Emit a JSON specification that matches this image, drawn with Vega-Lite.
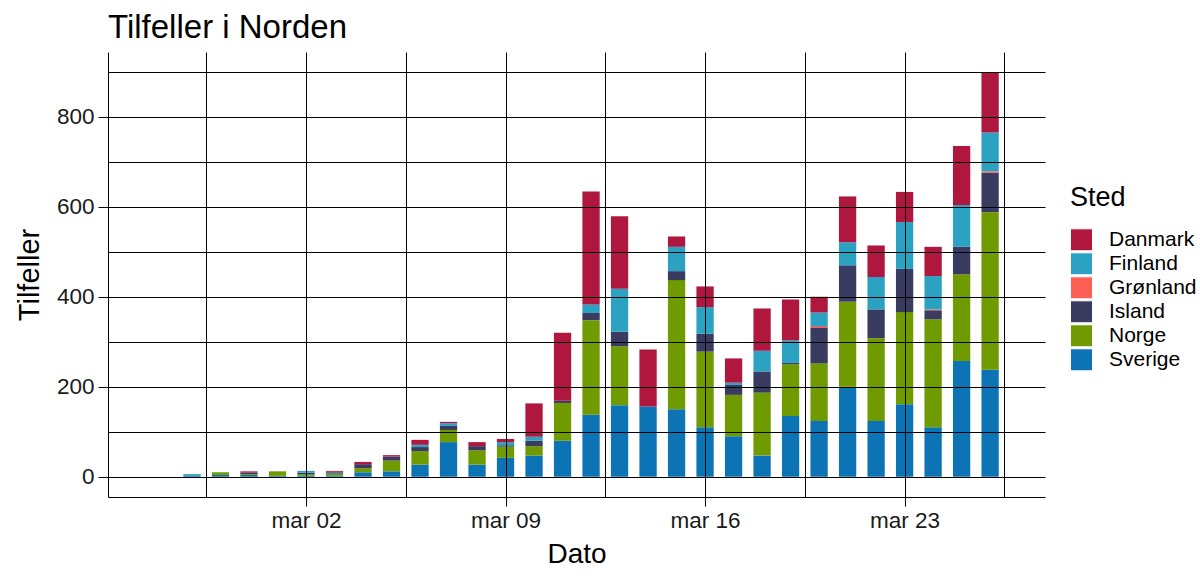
{
  "$schema": "https://vega.github.io/schema/vega-lite/v6.json",
  "width": 937,
  "height": 445,
  "autosize": {"type": "none"},
  "padding": {"left": 108, "top": 52, "right": 155, "bottom": 79},
  "background": "white",
  "title": {"text": "Tilfeller i Norden", "anchor": "start", "frame": "group", "fontSize": 33, "font": "Liberation Sans", "fontWeight": "normal", "color": "black", "offset": 7},
  "config": {
    "view": {"stroke": null},
    "font": "Liberation Sans",
    "axis": {"labelFont": "Liberation Sans", "titleFont": "Liberation Sans", "labelColor": "#1a1a1a", "titleColor": "black", "titleFontWeight": "normal", "domainColor": "black", "domainWidth": 1, "tickColor": "black", "gridColor": "black", "gridOpacity": 1, "gridWidth": 1}
  },
  "data": {"values": [
    {"Dato": "2020-02-27", "Sted": "Sverige", "Tilfeller": 2},
    {"Dato": "2020-02-27", "Sted": "Finland", "Tilfeller": 4},
    {"Dato": "2020-02-28", "Sted": "Sverige", "Tilfeller": 4},
    {"Dato": "2020-02-28", "Sted": "Norge", "Tilfeller": 6},
    {"Dato": "2020-02-29", "Sted": "Sverige", "Tilfeller": 4},
    {"Dato": "2020-02-29", "Sted": "Norge", "Tilfeller": 2},
    {"Dato": "2020-02-29", "Sted": "Island", "Tilfeller": 3},
    {"Dato": "2020-02-29", "Sted": "Danmark", "Tilfeller": 3},
    {"Dato": "2020-03-01", "Sted": "Sverige", "Tilfeller": 2},
    {"Dato": "2020-03-01", "Sted": "Norge", "Tilfeller": 10},
    {"Dato": "2020-03-02", "Sted": "Sverige", "Tilfeller": 3},
    {"Dato": "2020-03-02", "Sted": "Norge", "Tilfeller": 3},
    {"Dato": "2020-03-02", "Sted": "Island", "Tilfeller": 3},
    {"Dato": "2020-03-02", "Sted": "Finland", "Tilfeller": 4},
    {"Dato": "2020-03-03", "Sted": "Sverige", "Tilfeller": 3},
    {"Dato": "2020-03-03", "Sted": "Norge", "Tilfeller": 4},
    {"Dato": "2020-03-03", "Sted": "Island", "Tilfeller": 3},
    {"Dato": "2020-03-03", "Sted": "Finland", "Tilfeller": 1},
    {"Dato": "2020-03-03", "Sted": "Danmark", "Tilfeller": 2},
    {"Dato": "2020-03-04", "Sted": "Sverige", "Tilfeller": 10},
    {"Dato": "2020-03-04", "Sted": "Norge", "Tilfeller": 9},
    {"Dato": "2020-03-04", "Sted": "Island", "Tilfeller": 9},
    {"Dato": "2020-03-04", "Sted": "Danmark", "Tilfeller": 5},
    {"Dato": "2020-03-05", "Sted": "Sverige", "Tilfeller": 12},
    {"Dato": "2020-03-05", "Sted": "Norge", "Tilfeller": 24},
    {"Dato": "2020-03-05", "Sted": "Island", "Tilfeller": 9},
    {"Dato": "2020-03-05", "Sted": "Danmark", "Tilfeller": 3},
    {"Dato": "2020-03-06", "Sted": "Sverige", "Tilfeller": 27},
    {"Dato": "2020-03-06", "Sted": "Norge", "Tilfeller": 30},
    {"Dato": "2020-03-06", "Sted": "Island", "Tilfeller": 9},
    {"Dato": "2020-03-06", "Sted": "Finland", "Tilfeller": 5},
    {"Dato": "2020-03-06", "Sted": "Danmark", "Tilfeller": 11},
    {"Dato": "2020-03-07", "Sted": "Sverige", "Tilfeller": 77},
    {"Dato": "2020-03-07", "Sted": "Norge", "Tilfeller": 27},
    {"Dato": "2020-03-07", "Sted": "Island", "Tilfeller": 9},
    {"Dato": "2020-03-07", "Sted": "Finland", "Tilfeller": 6},
    {"Dato": "2020-03-07", "Sted": "Danmark", "Tilfeller": 3},
    {"Dato": "2020-03-08", "Sted": "Sverige", "Tilfeller": 27},
    {"Dato": "2020-03-08", "Sted": "Norge", "Tilfeller": 32},
    {"Dato": "2020-03-08", "Sted": "Island", "Tilfeller": 9},
    {"Dato": "2020-03-08", "Sted": "Danmark", "Tilfeller": 9},
    {"Dato": "2020-03-09", "Sted": "Sverige", "Tilfeller": 42},
    {"Dato": "2020-03-09", "Sted": "Norge", "Tilfeller": 25},
    {"Dato": "2020-03-09", "Sted": "Island", "Tilfeller": 3},
    {"Dato": "2020-03-09", "Sted": "Finland", "Tilfeller": 7},
    {"Dato": "2020-03-09", "Sted": "Danmark", "Tilfeller": 7},
    {"Dato": "2020-03-10", "Sted": "Sverige", "Tilfeller": 47},
    {"Dato": "2020-03-10", "Sted": "Norge", "Tilfeller": 21},
    {"Dato": "2020-03-10", "Sted": "Island", "Tilfeller": 12},
    {"Dato": "2020-03-10", "Sted": "Finland", "Tilfeller": 9},
    {"Dato": "2020-03-10", "Sted": "Danmark", "Tilfeller": 74},
    {"Dato": "2020-03-11", "Sted": "Sverige", "Tilfeller": 80},
    {"Dato": "2020-03-11", "Sted": "Norge", "Tilfeller": 84},
    {"Dato": "2020-03-11", "Sted": "Island", "Tilfeller": 5},
    {"Dato": "2020-03-11", "Sted": "Danmark", "Tilfeller": 151},
    {"Dato": "2020-03-12", "Sted": "Sverige", "Tilfeller": 138},
    {"Dato": "2020-03-12", "Sted": "Norge", "Tilfeller": 210},
    {"Dato": "2020-03-12", "Sted": "Island", "Tilfeller": 16},
    {"Dato": "2020-03-12", "Sted": "Finland", "Tilfeller": 19},
    {"Dato": "2020-03-12", "Sted": "Danmark", "Tilfeller": 251},
    {"Dato": "2020-03-13", "Sted": "Sverige", "Tilfeller": 159},
    {"Dato": "2020-03-13", "Sted": "Norge", "Tilfeller": 131},
    {"Dato": "2020-03-13", "Sted": "Island", "Tilfeller": 32},
    {"Dato": "2020-03-13", "Sted": "Finland", "Tilfeller": 96},
    {"Dato": "2020-03-13", "Sted": "Danmark", "Tilfeller": 161},
    {"Dato": "2020-03-14", "Sted": "Sverige", "Tilfeller": 156},
    {"Dato": "2020-03-14", "Sted": "Danmark", "Tilfeller": 127},
    {"Dato": "2020-03-15", "Sted": "Sverige", "Tilfeller": 150},
    {"Dato": "2020-03-15", "Sted": "Norge", "Tilfeller": 287},
    {"Dato": "2020-03-15", "Sted": "Island", "Tilfeller": 20},
    {"Dato": "2020-03-15", "Sted": "Finland", "Tilfeller": 54},
    {"Dato": "2020-03-15", "Sted": "Danmark", "Tilfeller": 23},
    {"Dato": "2020-03-16", "Sted": "Sverige", "Tilfeller": 110},
    {"Dato": "2020-03-16", "Sted": "Norge", "Tilfeller": 168},
    {"Dato": "2020-03-16", "Sted": "Island", "Tilfeller": 40},
    {"Dato": "2020-03-16", "Sted": "Finland", "Tilfeller": 59},
    {"Dato": "2020-03-16", "Sted": "Danmark", "Tilfeller": 46},
    {"Dato": "2020-03-17", "Sted": "Sverige", "Tilfeller": 90},
    {"Dato": "2020-03-17", "Sted": "Norge", "Tilfeller": 92},
    {"Dato": "2020-03-17", "Sted": "Island", "Tilfeller": 22},
    {"Dato": "2020-03-17", "Sted": "Finland", "Tilfeller": 5},
    {"Dato": "2020-03-17", "Sted": "Danmark", "Tilfeller": 54},
    {"Dato": "2020-03-18", "Sted": "Sverige", "Tilfeller": 47},
    {"Dato": "2020-03-18", "Sted": "Norge", "Tilfeller": 140},
    {"Dato": "2020-03-18", "Sted": "Island", "Tilfeller": 47},
    {"Dato": "2020-03-18", "Sted": "Finland", "Tilfeller": 46},
    {"Dato": "2020-03-18", "Sted": "Danmark", "Tilfeller": 94},
    {"Dato": "2020-03-19", "Sted": "Sverige", "Tilfeller": 135},
    {"Dato": "2020-03-19", "Sted": "Norge", "Tilfeller": 115},
    {"Dato": "2020-03-19", "Sted": "Island", "Tilfeller": 3},
    {"Dato": "2020-03-19", "Sted": "Finland", "Tilfeller": 50},
    {"Dato": "2020-03-19", "Sted": "Danmark", "Tilfeller": 91},
    {"Dato": "2020-03-20", "Sted": "Sverige", "Tilfeller": 124},
    {"Dato": "2020-03-20", "Sted": "Norge", "Tilfeller": 128},
    {"Dato": "2020-03-20", "Sted": "Island", "Tilfeller": 80},
    {"Dato": "2020-03-20", "Sted": "Grønland", "Tilfeller": 3},
    {"Dato": "2020-03-20", "Sted": "Finland", "Tilfeller": 30},
    {"Dato": "2020-03-20", "Sted": "Danmark", "Tilfeller": 35},
    {"Dato": "2020-03-21", "Sted": "Sverige", "Tilfeller": 200},
    {"Dato": "2020-03-21", "Sted": "Norge", "Tilfeller": 189},
    {"Dato": "2020-03-21", "Sted": "Island", "Tilfeller": 81},
    {"Dato": "2020-03-21", "Sted": "Finland", "Tilfeller": 51},
    {"Dato": "2020-03-21", "Sted": "Danmark", "Tilfeller": 102},
    {"Dato": "2020-03-22", "Sted": "Sverige", "Tilfeller": 124},
    {"Dato": "2020-03-22", "Sted": "Norge", "Tilfeller": 184},
    {"Dato": "2020-03-22", "Sted": "Island", "Tilfeller": 64},
    {"Dato": "2020-03-22", "Sted": "Finland", "Tilfeller": 72},
    {"Dato": "2020-03-22", "Sted": "Danmark", "Tilfeller": 70},
    {"Dato": "2020-03-23", "Sted": "Sverige", "Tilfeller": 161},
    {"Dato": "2020-03-23", "Sted": "Norge", "Tilfeller": 205},
    {"Dato": "2020-03-23", "Sted": "Island", "Tilfeller": 96},
    {"Dato": "2020-03-23", "Sted": "Finland", "Tilfeller": 104},
    {"Dato": "2020-03-23", "Sted": "Danmark", "Tilfeller": 67},
    {"Dato": "2020-03-24", "Sted": "Sverige", "Tilfeller": 110},
    {"Dato": "2020-03-24", "Sted": "Norge", "Tilfeller": 240},
    {"Dato": "2020-03-24", "Sted": "Island", "Tilfeller": 20},
    {"Dato": "2020-03-24", "Sted": "Grønland", "Tilfeller": 2},
    {"Dato": "2020-03-24", "Sted": "Finland", "Tilfeller": 74},
    {"Dato": "2020-03-24", "Sted": "Danmark", "Tilfeller": 65},
    {"Dato": "2020-03-25", "Sted": "Sverige", "Tilfeller": 257},
    {"Dato": "2020-03-25", "Sted": "Norge", "Tilfeller": 193},
    {"Dato": "2020-03-25", "Sted": "Island", "Tilfeller": 61},
    {"Dato": "2020-03-25", "Sted": "Finland", "Tilfeller": 93},
    {"Dato": "2020-03-25", "Sted": "Danmark", "Tilfeller": 131},
    {"Dato": "2020-03-26", "Sted": "Sverige", "Tilfeller": 238},
    {"Dato": "2020-03-26", "Sted": "Norge", "Tilfeller": 350},
    {"Dato": "2020-03-26", "Sted": "Island", "Tilfeller": 88},
    {"Dato": "2020-03-26", "Sted": "Grønland", "Tilfeller": 3},
    {"Dato": "2020-03-26", "Sted": "Finland", "Tilfeller": 86},
    {"Dato": "2020-03-26", "Sted": "Danmark", "Tilfeller": 134}
  ]},
  "mark": {"type": "bar", "size": 17.3},
  "encoding": {
    "x": {
      "field": "Dato", "type": "temporal",
      "scale": {"type": "utc", "domain": [
        {"year": 2020, "month": 2, "date": 24, "hours": 5, "minutes": 30, "utc": true},
        {"year": 2020, "month": 3, "date": 27, "hours": 18, "utc": true}
      ]},
      "axis": {
        "title": "Dato", "titleFontSize": 28, "titlePadding": 9,
        "labelFontSize": 22.5, "labelPadding": 3, "tickSize": 9, "zindex": 1,
        "values": [
          {"year": 2020, "month": 2, "date": 27, "hours": 12, "utc": true},
          {"year": 2020, "month": 3, "date": 2, "utc": true},
          {"year": 2020, "month": 3, "date": 5, "hours": 12, "utc": true},
          {"year": 2020, "month": 3, "date": 9, "utc": true},
          {"year": 2020, "month": 3, "date": 12, "hours": 12, "utc": true},
          {"year": 2020, "month": 3, "date": 16, "utc": true},
          {"year": 2020, "month": 3, "date": 19, "hours": 12, "utc": true},
          {"year": 2020, "month": 3, "date": 23, "utc": true},
          {"year": 2020, "month": 3, "date": 26, "hours": 12, "utc": true}
        ],
        "labelExpr": "utchours(datum.value) === 12 ? '' : lower(utcFormat(datum.value, '%b %d'))",
        "tickOpacity": {"condition": {"test": "utchours(datum.value) === 12", "value": 0}, "value": 1},
        "labelFlush": false, "labelOverlap": false
      }
    },
    "y": {
      "field": "Tilfeller", "type": "quantitative", "aggregate": "sum", "stack": "zero",
      "scale": {"domain": [-45, 944], "nice": false, "zero": false},
      "axis": {
        "title": "Tilfeller", "titleFontSize": 29, "titlePadding": 12,
        "labelFontSize": 22.5, "labelPadding": 4, "tickSize": 10, "zindex": 1,
        "values": [0, 100, 200, 300, 400, 500, 600, 700, 800, 900],
        "labelExpr": "datum.value % 200 === 0 ? datum.label : ''",
        "tickOpacity": {"condition": {"test": "datum.value % 200 !== 0", "value": 0}, "value": 1},
        "labelOverlap": false
      }
    },
    "color": {
      "field": "Sted", "type": "nominal",
      "scale": {"domain": ["Danmark", "Finland", "Grønland", "Island", "Norge", "Sverige"],
                "range": ["#B0173F", "#2CA2C2", "#FE5F55", "#393B60", "#6F9A00", "#0C74B5"]},
      "legend": {
        "title": "Sted", "orient": "none", "legendX": 962, "legendY": 133,
        "titleFontSize": 27, "titleFont": "Liberation Sans", "titleFontWeight": "normal", "titleColor": "black", "titlePadding": 16,
        "labelFontSize": 21, "labelFont": "Liberation Sans", "labelColor": "black", "labelOffset": 16,
        "symbolType": "square", "symbolSize": 484, "symbolStrokeColor": "white", "symbolStrokeWidth": 1, "symbolOpacity": 1,
        "clipHeight": 23.6, "rowPadding": 0
      }
    },
    "order": {"field": "Sted", "sort": "descending"}
  }
}
